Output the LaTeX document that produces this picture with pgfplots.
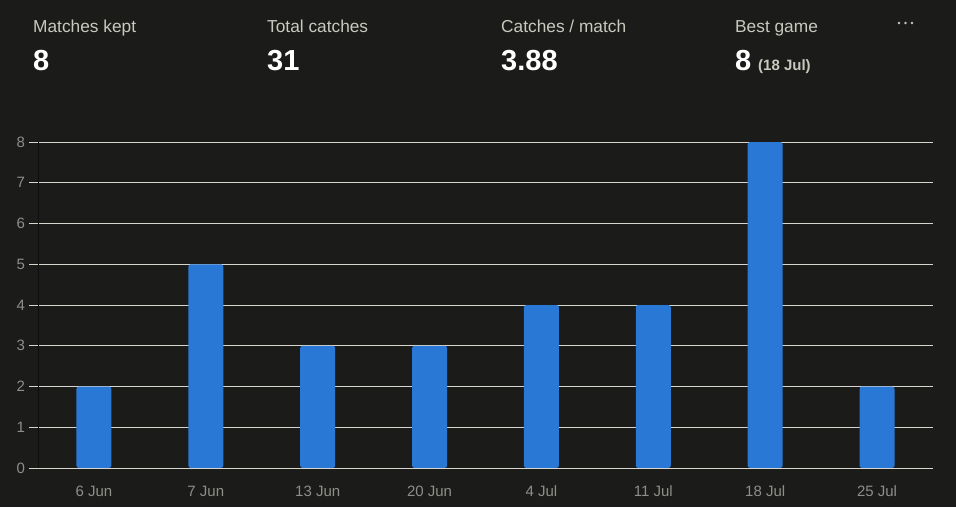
\documentclass[border=0pt]{standalone}
\usepackage{pgfplots}
\pgfplotsset{compat=1.18}
\usepackage{fontspec}
\setmainfont{Liberation Sans}
\definecolor{bg}{HTML}{1B1B1A}
\definecolor{barc}{HTML}{2A78D6}
\definecolor{gridc}{HTML}{D6D6CE}
\definecolor{tickc}{HTML}{8E8E8A}
\definecolor{headc}{HTML}{C9C9BE}
\definecolor{axc}{HTML}{0E0E0E}
\begin{document}
\begin{tikzpicture}
\useasboundingbox (0pt,0pt) rectangle (956pt,507pt);
\fill[bg] (0pt,0pt) rectangle (956pt,507pt);
% header
\node[anchor=base west,inner sep=0,text=headc,font=\fontsize{17.3}{20}\selectfont] at (33pt,474pt) {Matches kept};
\node[anchor=base west,inner sep=0,text=headc,font=\fontsize{17.3}{20}\selectfont] at (267pt,474pt) {Total catches};
\node[anchor=base west,inner sep=0,text=headc,font=\fontsize{17.3}{20}\selectfont] at (501pt,474pt) {Catches / match};
\node[anchor=base west,inner sep=0,text=headc,font=\fontsize{17.3}{20}\selectfont] at (735pt,474pt) {Best game};
\node[anchor=base west,inner sep=0,text=white,font=\fontsize{29}{32}\selectfont\bfseries] at (33pt,436pt) {8};
\node[anchor=base west,inner sep=0,text=white,font=\fontsize{29}{32}\selectfont\bfseries] at (267pt,436pt) {31};
\node[anchor=base west,inner sep=0,text=white,font=\fontsize{29}{32}\selectfont\bfseries] at (501pt,436pt) {3.88};
\node[anchor=base west,inner sep=0,text=white,font=\fontsize{29}{32}\selectfont\bfseries] at (735pt,436pt) {8};
\node[anchor=base west,inner sep=0,text=headc,font=\fontsize{15}{17}\selectfont\bfseries] at (758pt,436pt) {(18 Jul)};
\fill[headc] (899pt,484pt) circle (1.4pt);
\fill[headc] (905.5pt,484pt) circle (1.4pt);
\fill[headc] (912pt,484pt) circle (1.4pt);
\begin{axis}[
  at={(38pt,39pt)}, anchor=south west,
  scale only axis, width=895pt, height=326pt,
  xmin=-0.5, xmax=7.5, ymin=0, ymax=8,
  axis lines=left,
  axis line style={-, draw=none},
  ybar, bar width=35pt,
  xtick={0,...,7},
  xticklabels={6 Jun,7 Jun,13 Jun,20 Jun,4 Jul,11 Jul,18 Jul,25 Jul},
  xtick style={draw=none},
  ytick={0,...,8},
  ymajorgrids, grid style={gridc, line width=0.8pt},
  major tick length=9pt,
  tick align=outside,
  ytick style={gridc, line width=0.8pt},
  yticklabel style={text=tickc, font=\fontsize{15}{17}\selectfont, xshift=-0.5pt},
  xticklabel style={text=tickc, font=\fontsize{15}{17}\selectfont, anchor=base, yshift=-19pt},
  /pgf/number format/assume math mode=true,
  clip=false,
]
\addplot[fill=barc, draw=none, rounded corners=2.5pt] coordinates {(0,2) (1,5) (2,3) (3,3) (4,4) (5,4) (6,8) (7,2)};
\draw[gridc, line width=0.8pt] (axis cs:-0.5,0) -- (axis cs:7.5,0);
\draw[axc, line width=0.8pt] (axis cs:-0.5,0) -- (axis cs:-0.5,8);
\end{axis}
\end{tikzpicture}
\end{document}
